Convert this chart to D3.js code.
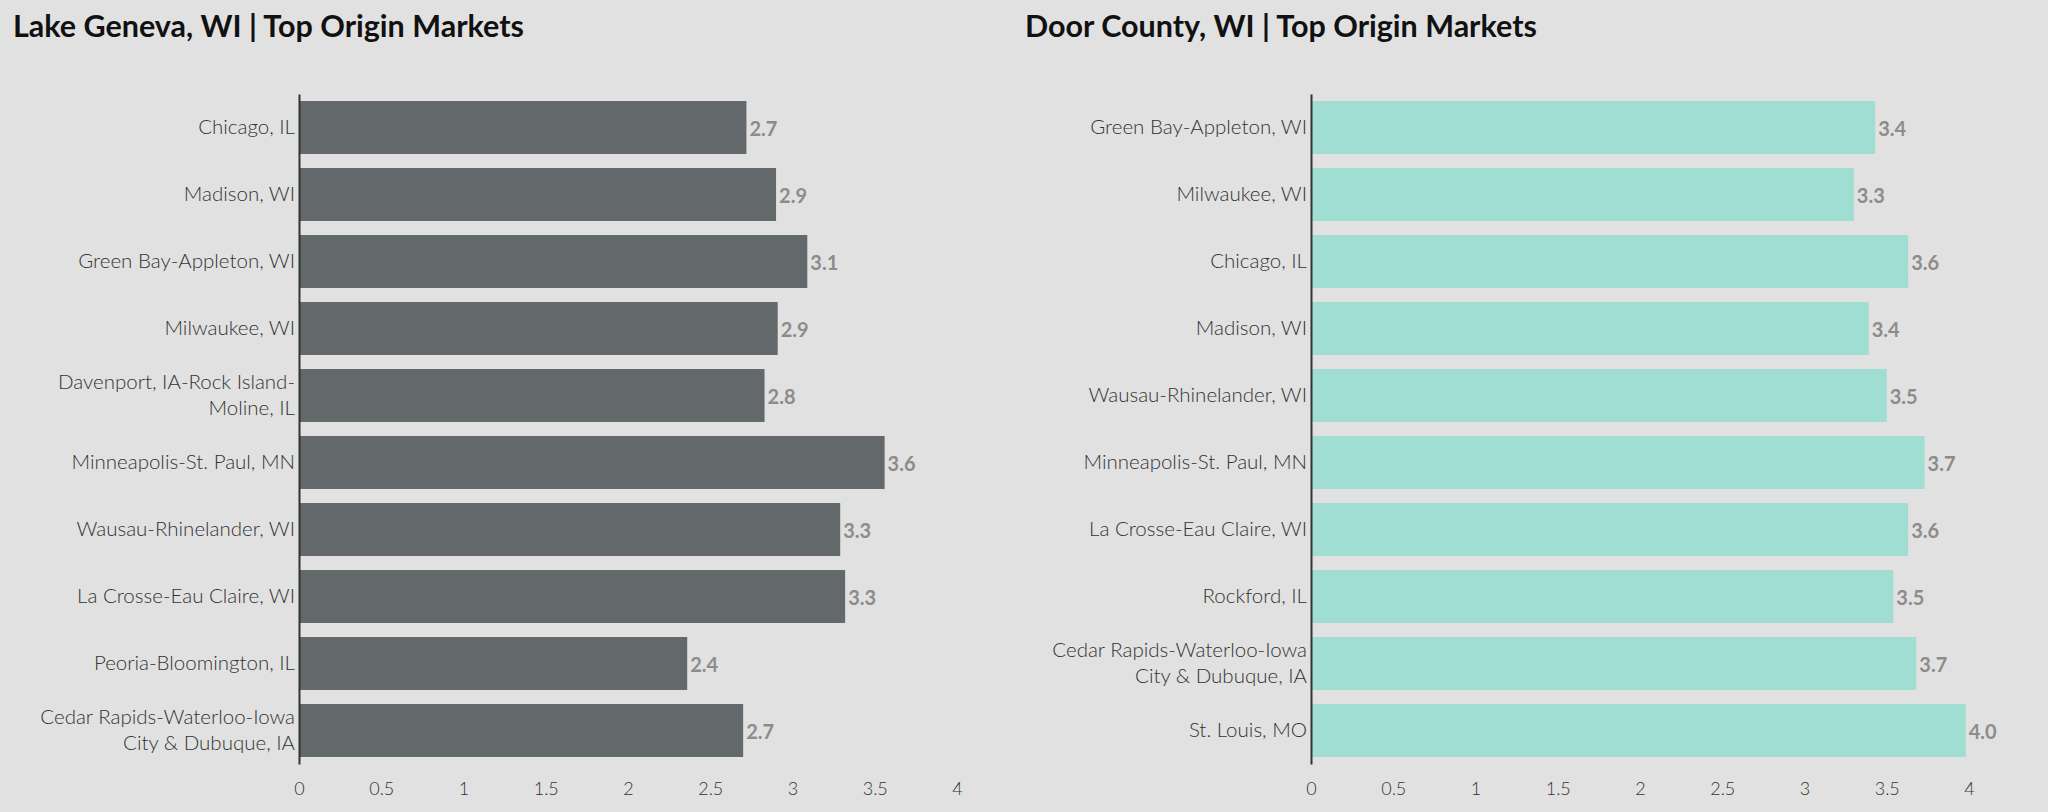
<!DOCTYPE html>
<html>
<head>
<meta charset="utf-8">
<script src="https://cdn.jsdelivr.net/npm/d3@7"></script>
<style>
  body { margin: 0; background: #e1e1e1; }
  svg { display: block; font-family: Lato, "Open Sans", sans-serif; }
</style>
</head>
<body>
<svg width="2048" height="812"></svg>
<script>
// Lake Geneva
const genevaTitle = "Lake Geneva, WI | Top Origin Markets";
const genevaMarkets = [
  "Chicago, IL", "Madison, WI", "Green Bay-Appleton, WI", "Milwaukee, WI",
  "Davenport, IA-Rock Island-Moline, IL", "Minneapolis-St. Paul, MN",
  "Wausau-Rhinelander, WI", "La Crosse-Eau Claire, WI", "Peoria-Bloomington, IL",
  "Cedar Rapids-Waterloo-Iowa City & Dubuque, IA"
];
const genevaValues = [2.72, 2.9, 3.09, 2.91, 2.83, 3.56, 3.29, 3.32, 2.36, 2.7];

// Door County
const doorTitle = "Door County, WI | Top Origin Markets";
const doorMarkets = [
  "Green Bay-Appleton, WI", "Milwaukee, WI", "Chicago, IL", "Madison, WI",
  "Wausau-Rhinelander, WI", "Minneapolis-St. Paul, MN", "La Crosse-Eau Claire, WI",
  "Rockford, IL", "Cedar Rapids-Waterloo-Iowa City & Dubuque, IA", "St. Louis, MO"
];
const doorValues = [3.43, 3.3, 3.63, 3.39, 3.5, 3.73, 3.63, 3.54, 3.68, 3.98];

const xTicks = [0, 0.5, 1, 1.5, 2, 2.5, 3, 3.5, 4];

const svg = d3.select("svg");

function wrap(textSel, maxWidth, fontSize) {
  textSel.each(function() {
    const text = d3.select(this);
    const words = text.text().split(/(?<=-)|(?<=\s)/);
    const x = text.attr("x");
    text.text(null).attr("dy", null);
    let lines = [];
    let line = "";
    const probe = text.append("tspan");
    words.forEach(w => {
      const test = line + w;
      probe.text(test.trim());
      if (probe.node().getComputedTextLength() > maxWidth && line) {
        lines.push(line.trim());
        line = w;
      } else {
        line = test;
      }
    });
    lines.push(line.trim());
    probe.remove();
    const lh = 26;
    const shift = 0.34 * fontSize;
    lines.forEach((l, i) => {
      text.append("tspan")
        .attr("x", x)
        .attr("dy", i === 0 ? (shift - (lines.length - 1) * lh / 2) + "px" : lh + "px")
        .text(l);
    });
  });
}

function drawChart(left, title, markets, values, color) {
  const g = svg.append("g");
  const axisX = left + 286;
  const width = 658;

  g.append("text")
    .attr("x", left)
    .attr("y", 37)
    .attr("font-size", "30.5px")
    .attr("font-weight", 700)
    .attr("fill", "#111")
    .text(title);

  const x = d3.scaleLinear().domain([0, 4]).range([axisX, axisX + width]);
  const y = d3.scaleBand().domain(markets).range([94, 764]).paddingInner(0.21).paddingOuter(0.105);

  g.selectAll("rect.bar")
    .data(markets)
    .enter()
    .append("rect")
    .attr("class", "bar")
    .attr("x", x(0))
    .attr("y", d => y(d))
    .attr("width", (d, i) => x(values[i]) - x(0))
    .attr("height", y.bandwidth())
    .attr("fill", color);

  g.selectAll("text.val")
    .data(markets)
    .enter()
    .append("text")
    .attr("class", "val")
    .attr("x", (d, i) => x(values[i]) + 3)
    .attr("y", d => y(d) + y.bandwidth() / 2)
    .attr("dy", "0.4em")
    .attr("font-size", "20px")
    .attr("font-weight", 700)
    .attr("fill", "#8c8c8c")
    .text((d, i) => values[i].toFixed(1));

  // y axis
  const labelSize = 20.5;
  const yAxis = g.append("g")
    .attr("transform", `translate(${axisX},0)`)
    .call(d3.axisLeft(y).tickSize(0).tickPadding(4));
  yAxis.select(".domain").attr("stroke", "#333").attr("stroke-width", 2);
  yAxis.selectAll("text")
    .attr("font-size", labelSize + "px")
    .attr("font-family", "Lato, sans-serif")
    .attr("font-weight", 300)
    .attr("fill", "#333")
    .call(wrap, 272, labelSize);

  // x axis
  const xAxis = g.append("g")
    .attr("transform", "translate(0,779)")
    .call(d3.axisBottom(x).tickValues(xTicks).tickSize(0).tickFormat(d3.format("")));
  xAxis.select(".domain").remove();
  xAxis.selectAll("text")
    .attr("font-size", "18px")
    .attr("font-family", "Lato, sans-serif")
    .attr("font-weight", 300)
    .attr("fill", "#333");
}

drawChart(13, genevaTitle, genevaMarkets, genevaValues, "#63686b");
drawChart(1025, doorTitle, doorMarkets, doorValues, "#a0ddd3");
</script>
</body>
</html>
